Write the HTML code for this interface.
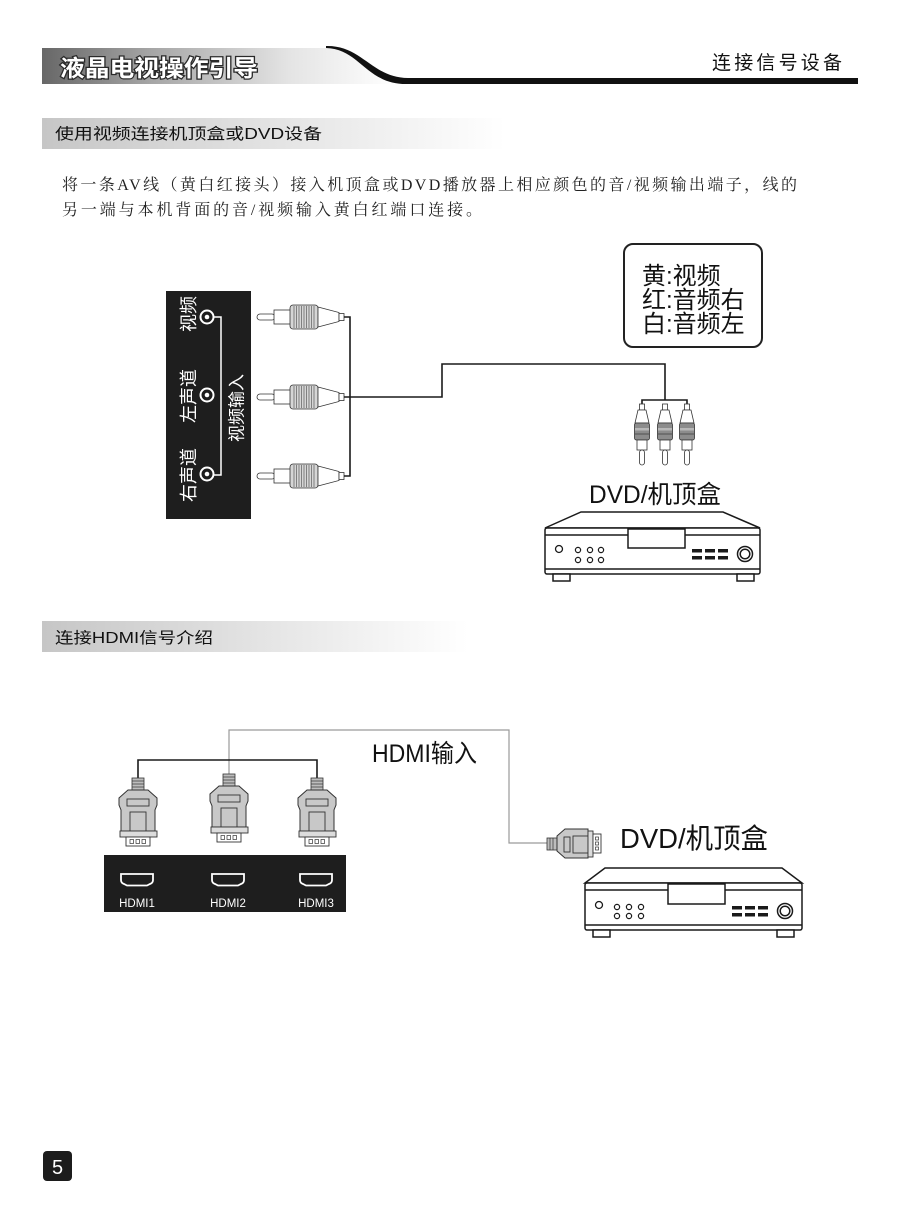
<!DOCTYPE html>
<html><head><meta charset="utf-8">
<style>
html,body{margin:0;padding:0;background:#fff;}
svg{display:block;}
.cjk{font-family:"Liberation Sans","Noto Sans CJK SC",sans-serif;}
.ser{font-family:"Liberation Serif","Noto Serif CJK SC",serif;}
</style></head><body>
<svg width="898" height="1229" viewBox="0 0 898 1229" xmlns="http://www.w3.org/2000/svg">
<defs>
 <linearGradient id="hg" x1="42" y1="0" x2="395" y2="0" gradientUnits="userSpaceOnUse">
  <stop offset="0" stop-color="#676767"/>
  <stop offset="0.3" stop-color="#a4a4a4"/>
  <stop offset="0.7" stop-color="#e4e4e4"/>
  <stop offset="1" stop-color="#ffffff"/>
 </linearGradient>
 <linearGradient id="sg1" x1="42" y1="0" x2="505" y2="0" gradientUnits="userSpaceOnUse">
  <stop offset="0" stop-color="#c6c6c6"/>
  <stop offset="0.55" stop-color="#e6e6e6"/>
  <stop offset="1" stop-color="#ffffff"/>
 </linearGradient>
 <linearGradient id="sg2" x1="42" y1="0" x2="468" y2="0" gradientUnits="userSpaceOnUse">
  <stop offset="0" stop-color="#c6c6c6"/>
  <stop offset="0.55" stop-color="#e6e6e6"/>
  <stop offset="1" stop-color="#ffffff"/>
 </linearGradient>
</defs>

<!-- HEADER -->
<rect x="42" y="48" width="360" height="36" fill="url(#hg)"/>
<path d="M330 46 C362 46 372 79 406 79 L430 79 L430 40 L330 40 Z" fill="#fff"/>
<path d="M326 46 C362 45 372 78 408 78 L858 78 L858 84 L406 84 C366 84 360 49 326 48 Z" fill="#111"/>
<text class="cjk" x="60" y="76" font-size="23" font-weight="700" textLength="198" lengthAdjust="spacingAndGlyphs" fill="#fff" stroke="#2a2a2a" stroke-width="2.5" paint-order="stroke">液晶电视操作引导</text>
<text class="cjk" x="712" y="69" font-size="19" textLength="130" lengthAdjust="spacing" fill="#111">连接信号设备</text>

<!-- SECTION 1 TITLE -->
<rect x="42" y="118" width="463" height="31" fill="url(#sg1)"/>
<text class="cjk" x="55" y="139" font-size="15.5" textLength="267" lengthAdjust="spacingAndGlyphs" fill="#111">使用视频连接机顶盒或DVD设备</text>

<!-- PARAGRAPH -->
<text class="ser" x="62" y="190" font-size="16" textLength="735" lengthAdjust="spacing" fill="#222">将一条AV线（黄白红接头）接入机顶盒或DVD播放器上相应颜色的音/视频输出端子，线的</text>
<text class="ser" x="62" y="215" font-size="16" textLength="420" lengthAdjust="spacing" fill="#222">另一端与本机背面的音/视频输入黄白红端口连接。</text>

<!-- BLACK PANEL (AV input) -->
<rect x="166" y="291" width="85" height="228" fill="#1e1e1e"/>
<g stroke="#fff" fill="none" stroke-width="1.5">
 <path d="M213 317 L221 317 L221 475 L213 475"/>
 <circle cx="207" cy="317" r="6.5" stroke-width="2"/>
 <circle cx="207" cy="395" r="6.5" stroke-width="2"/>
 <circle cx="207" cy="474" r="6.5" stroke-width="2"/>
</g>
<g fill="#fff">
 <circle cx="207" cy="317" r="2.3"/>
 <circle cx="207" cy="395" r="2.3"/>
 <circle cx="207" cy="474" r="2.3"/>
</g>
<g class="cjk" fill="#fff" font-size="18" text-anchor="middle">
 <text transform="translate(188,314) rotate(-90)" y="6.8">视频</text>
 <text transform="translate(188,396) rotate(-90)" y="6.8">左声道</text>
 <text transform="translate(188,475) rotate(-90)" y="6.8">右声道</text>
 <text transform="translate(236,408) rotate(-90)" y="6.5" font-size="17">视频输入</text>
</g>

<!-- HORIZONTAL RCA PLUGS -->
<g id="rca">
 <rect x="257" y="314" width="18" height="6" rx="3" fill="#fff" stroke="#333" stroke-width="0.8"/>
 <rect x="274" y="310" width="17" height="14" fill="#fff" stroke="#333" stroke-width="0.8"/>
 <rect x="290" y="305" width="28" height="24" rx="3" fill="#d6d6d6" stroke="#333" stroke-width="0.8"/>
 <g stroke="#6a6a6a" stroke-width="0.8">
  <line x1="294" y1="306" x2="294" y2="328"/><line x1="296.5" y1="306" x2="296.5" y2="328"/>
  <line x1="299" y1="306" x2="299" y2="328"/><line x1="301.5" y1="306" x2="301.5" y2="328"/>
  <line x1="304" y1="306" x2="304" y2="328"/><line x1="306.5" y1="306" x2="306.5" y2="328"/>
  <line x1="309" y1="306" x2="309" y2="328"/><line x1="311.5" y1="306" x2="311.5" y2="328"/>
  <line x1="314" y1="306" x2="314" y2="328"/>
 </g>
 <polygon points="318,307 339,312.5 339,321.5 318,327" fill="#fff" stroke="#333" stroke-width="0.8"/>
 <rect x="339" y="313.5" width="5" height="7" fill="#fff" stroke="#333" stroke-width="0.8"/>
</g>
<use href="#rca" transform="translate(0,80)"/>
<use href="#rca" transform="translate(0,159)"/>

<!-- AV CABLE -->
<g stroke="#1a1a1a" stroke-width="1.6" fill="none">
 <path d="M344 317 L350 317 L350 476 L344 476"/>
 <path d="M344 397 L442 397 L442 364 L665 364 L665 400"/>
 <path d="M642 405 L642 400 L687 400 L687 405"/>
</g>

<!-- VERTICAL RCA PLUGS -->
<g id="vrca">
 <rect x="639.5" y="404" width="5" height="6" fill="#fff" stroke="#333" stroke-width="0.8"/>
 <polygon points="638,410 646,410 649,423 635,423" fill="#fff" stroke="#333" stroke-width="0.8"/>
 <rect x="634.5" y="423" width="15" height="17" rx="2" fill="#8c8c8c" stroke="#333" stroke-width="0.8"/>
 <rect x="635" y="428" width="14" height="2.5" fill="#b8b8b8"/>
 <rect x="635" y="433" width="14" height="2" fill="#6e6e6e"/>
 <rect x="637" y="440" width="10" height="10" fill="#fff" stroke="#333" stroke-width="0.8"/>
 <rect x="639.5" y="450" width="5" height="15" rx="2.5" fill="#fff" stroke="#333" stroke-width="0.8"/>
</g>
<use href="#vrca" transform="translate(23,0)"/>
<use href="#vrca" transform="translate(45,0)"/>

<!-- LEGEND BOX -->
<rect x="624" y="244" width="138" height="103" rx="9" fill="#fff" stroke="#222" stroke-width="2"/>
<g class="cjk" font-size="24" fill="#111">
 <text x="642" y="284">黄:视频</text>
 <text x="642" y="308">红:音频右</text>
 <text x="642" y="332">白:音频左</text>
</g>

<!-- DVD 1 -->
<text class="cjk" x="589" y="503" font-size="25" textLength="132" lengthAdjust="spacingAndGlyphs" fill="#111">DVD/机顶盒</text>
<g stroke="#1a1a1a" fill="#fff" stroke-width="1.5">
 <polygon points="581,512 723,512 760,528 545,528"/>
 <rect x="545" y="528" width="215" height="46" rx="2"/>
 <line x1="545" y1="535" x2="628" y2="535"/>
 <line x1="685" y1="535" x2="760" y2="535"/>
 <rect x="628" y="529" width="57" height="19"/>
 <line x1="545" y1="569" x2="760" y2="569"/>
 <rect x="553" y="574" width="17" height="7"/>
 <rect x="737" y="574" width="17" height="7"/>
 <circle cx="559" cy="549" r="3.5" stroke-width="1.3"/>
 <g stroke-width="1.2">
  <circle cx="578" cy="550" r="2.6"/><circle cx="590" cy="550" r="2.6"/><circle cx="601" cy="550" r="2.6"/>
  <circle cx="578" cy="560" r="2.6"/><circle cx="590" cy="560" r="2.6"/><circle cx="601" cy="560" r="2.6"/>
 </g>
 <circle cx="745" cy="554" r="7.5"/>
 <circle cx="745" cy="554" r="4.8"/>
</g>
<g fill="#1a1a1a">
 <rect x="692" y="549" width="10" height="3.5"/><rect x="705" y="549" width="10" height="3.5"/><rect x="718" y="549" width="10" height="3.5"/>
 <rect x="692" y="556" width="10" height="3.5"/><rect x="705" y="556" width="10" height="3.5"/><rect x="718" y="556" width="10" height="3.5"/>
</g>

<!-- SECTION 2 TITLE -->
<rect x="42" y="621" width="426" height="31" fill="url(#sg2)"/>
<text class="cjk" x="55" y="643" font-size="15.5" textLength="158" lengthAdjust="spacingAndGlyphs" fill="#111">连接HDMI信号介绍</text>

<!-- HDMI CABLES -->
<path d="M229 774 L229 730 L509 730 L509 843 L547 843" fill="none" stroke="#9a9a9a" stroke-width="1.2"/>
<path d="M138 778 L138 760 L317 760 L317 778" fill="none" stroke="#1a1a1a" stroke-width="1.6"/>

<!-- HDMI PLUG -->
<g id="hp">
 <rect x="132" y="778" width="12" height="12" fill="#bdbdbd" stroke="#333" stroke-width="0.8"/>
 <g stroke="#333" stroke-width="0.7"><line x1="132" y1="781" x2="144" y2="781"/><line x1="132" y1="784" x2="144" y2="784"/><line x1="132" y1="787" x2="144" y2="787"/></g>
 <polygon points="128,790 148,790 157,798 157,805 155,810 155,831 121,831 121,810 119,805 119,798" fill="#c8c8c8" stroke="#333" stroke-width="1"/>
 <rect x="127" y="799" width="22" height="7" fill="#c8c8c8" stroke="#333" stroke-width="0.9"/>
 <rect x="130" y="812" width="16" height="19" fill="#c8c8c8" stroke="#333" stroke-width="0.9"/>
 <rect x="120" y="831" width="37" height="6" fill="#dcdcdc" stroke="#333" stroke-width="0.9"/>
 <rect x="126" y="837" width="24" height="9" fill="#fff" stroke="#333" stroke-width="0.9"/>
 <g fill="none" stroke="#333" stroke-width="0.7"><rect x="130" y="839.5" width="3.5" height="4"/><rect x="136" y="839.5" width="3.5" height="4"/><rect x="142" y="839.5" width="3.5" height="4"/></g>
</g>
<use href="#hp" transform="translate(91,-4)"/>
<use href="#hp" transform="translate(179,0)"/>

<!-- HDMI PANEL -->
<rect x="104" y="855" width="242" height="57" fill="#1e1e1e"/>
<g fill="none" stroke="#fff" stroke-width="1.8">
 <path d="M121 874 h32 v6 q0 3 -3 4 l-3 1.5 h-20 l-3 -1.5 q-3 -1 -3 -4 z"/>
 <path d="M212 874 h32 v6 q0 3 -3 4 l-3 1.5 h-20 l-3 -1.5 q-3 -1 -3 -4 z"/>
 <path d="M300 874 h32 v6 q0 3 -3 4 l-3 1.5 h-20 l-3 -1.5 q-3 -1 -3 -4 z"/>
</g>
<g font-family="Liberation Sans, sans-serif" font-size="11.5" fill="#fff" text-anchor="middle">
 <text x="137" y="907">HDMI1</text>
 <text x="228" y="907">HDMI2</text>
 <text x="316" y="907">HDMI3</text>
</g>

<!-- HDMI输入 label -->
<text class="cjk" x="372" y="762" font-size="25" textLength="105" lengthAdjust="spacingAndGlyphs" fill="#111">HDMI输入</text>

<!-- SIDE HDMI PLUG -->
<rect x="547" y="838" width="10" height="12" fill="#bdbdbd" stroke="#333" stroke-width="0.8"/>
<g stroke="#333" stroke-width="0.7"><line x1="550" y1="838" x2="550" y2="850"/><line x1="553" y1="838" x2="553" y2="850"/></g>
<polygon points="557,836 565,829 588,829 588,858 565,858 557,851" fill="#c8c8c8" stroke="#333" stroke-width="1"/>
<rect x="564" y="837" width="6" height="15" fill="#c8c8c8" stroke="#333" stroke-width="0.9"/>
<rect x="573" y="836" width="15" height="17" fill="#c8c8c8" stroke="#333" stroke-width="0.9"/>
<rect x="588" y="831" width="5" height="26" fill="#dcdcdc" stroke="#333" stroke-width="0.9"/>
<rect x="593" y="834" width="8" height="19" fill="#fff" stroke="#333" stroke-width="0.9"/>
<g fill="none" stroke="#333" stroke-width="0.7"><rect x="595.5" y="837" width="3" height="3"/><rect x="595.5" y="842" width="3" height="3"/><rect x="595.5" y="847" width="3" height="3"/></g>

<!-- DVD 2 -->
<text class="cjk" x="620" y="848" font-size="28" textLength="148" lengthAdjust="spacingAndGlyphs" fill="#111">DVD/机顶盒</text>
<g stroke="#1a1a1a" fill="#fff" stroke-width="1.5">
 <polygon points="605,868 782,868 802,883 585,883"/>
 <rect x="585" y="883" width="217" height="47" rx="2"/>
 <line x1="585" y1="890" x2="668" y2="890"/>
 <line x1="725" y1="890" x2="802" y2="890"/>
 <rect x="668" y="884" width="57" height="20"/>
 <line x1="585" y1="925" x2="802" y2="925"/>
 <rect x="593" y="930" width="17" height="7"/>
 <rect x="777" y="930" width="17" height="7"/>
 <circle cx="599" cy="905" r="3.5" stroke-width="1.3"/>
 <g stroke-width="1.2">
  <circle cx="617" cy="907" r="2.6"/><circle cx="629" cy="907" r="2.6"/><circle cx="641" cy="907" r="2.6"/>
  <circle cx="617" cy="916" r="2.6"/><circle cx="629" cy="916" r="2.6"/><circle cx="641" cy="916" r="2.6"/>
 </g>
 <circle cx="785" cy="911" r="7.5"/>
 <circle cx="785" cy="911" r="4.8"/>
</g>
<g fill="#1a1a1a">
 <rect x="732" y="906" width="10" height="3.5"/><rect x="745" y="906" width="10" height="3.5"/><rect x="758" y="906" width="10" height="3.5"/>
 <rect x="732" y="913" width="10" height="3.5"/><rect x="745" y="913" width="10" height="3.5"/><rect x="758" y="913" width="10" height="3.5"/>
</g>

<!-- PAGE NUMBER -->
<rect x="43" y="1151" width="29" height="30" rx="4" fill="#1c1c1c"/>
<text x="57.5" y="1174" font-family="Liberation Sans, sans-serif" font-size="20" fill="#fff" text-anchor="middle">5</text>
</svg>
</body></html>
